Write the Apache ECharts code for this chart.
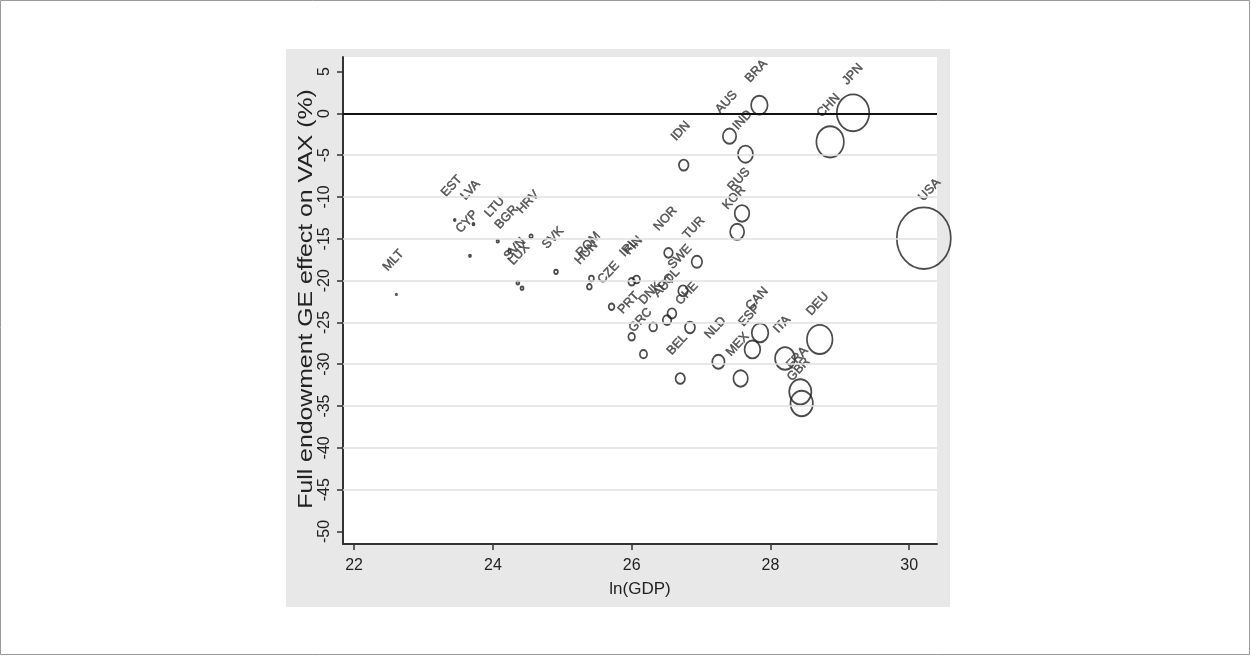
<!DOCTYPE html>
<html>
<head>
<meta charset="utf-8">
<script src="https://cdn.jsdelivr.net/npm/echarts@6/dist/echarts.min.js"></script>
<style>
  html, body { margin: 0; padding: 0; background: #ffffff; }
  #chart { width: 1251px; height: 656px; }
</style>
</head>
<body>
<div id="chart"></div>
<script>
// Country codes, log GDP and the full-endowment GE effect on VAX (%)
const countries = ['MLT','EST','LVA','CYP','LTU','BGR','HRV','SVN','LUX','SVK',
                   'ROM','HUN','CZE','IRL','FIN','NOR','TUR','SWE','DNK','AUT',
                   'POL','CHE','PRT','GRC','BEL','NLD','MEX','ESP','CAN','ITA',
                   'DEU','FRA','GBR','IDN','AUS','IND','BRA','RUS','KOR','CHN',
                   'JPN','USA'];
const lnGdp = [22.61, 23.45, 23.72, 23.67, 24.07, 24.24, 24.55, 24.36, 24.42, 24.91,
               25.42, 25.39, 25.71, 26.00, 26.07, 26.53, 26.94, 26.74, 26.31, 26.51,
               26.58, 26.84, 26.00, 26.17, 26.70, 27.25, 27.57, 27.74, 27.85, 28.21,
               28.71, 28.43, 28.45, 26.75, 27.41, 27.64, 27.84, 27.59, 27.52, 28.86,
               29.19, 30.21];
const geEffect = [-21.65, -12.76, -13.24, -17.03, -15.28, -16.47, -14.68, -20.26, -20.90, -18.95,
                  -19.74, -20.74, -23.13, -20.14, -19.86, -16.67, -17.75, -21.22, -25.53, -24.72,
                  -23.92, -25.60, -26.72, -28.79, -31.70, -29.71, -31.70, -28.23, -26.24, -29.31,
                  -27.03, -33.30, -34.69, -6.18, -2.72, -4.87, 0.99, -11.96, -14.16, -3.40,
                  0.07, -14.92];

// Axis ticks, titles and reference lines
const xTicks = [22, 24, 26, 28, 30];
const yTicks = [5, 0, -5, -10, -15, -20, -25, -30, -35, -40, -45, -50];
const gridLevels = [-5, -10, -15, -20, -25, -30, -35, -40, -45];
const zeroLevel = 0;
const xTitle = 'ln(GDP)';
const yTitle = 'Full endowment GE effect on VAX (%)';

// Bubble area is proportional to GDP, so the diameter grows with exp(lnGDP / 2)
const maxLn = Math.max.apply(null, lnGdp);
const maxDiameter = 54;
const bubbleSize = function (val) {
  const d = maxDiameter * Math.exp((val[0] - maxLn) / 2);
  return [d, d * 1.14];
};

const font = "'Liberation Sans', Arial, Helvetica, sans-serif";
const points = countries.map(function (c, i) {
  return { name: c, value: [lnGdp[i], geEffect[i]] };
});

const chart = echarts.init(document.getElementById('chart'), null, { renderer: 'canvas' });
chart.setOption({
  animation: false,
  backgroundColor: '#ffffff',
  graphic: [
    { type: 'rect', z: -20, silent: true,
      shape: { x: 0.5, y: 0.5, width: 1249, height: 654 },
      style: { fill: '#ffffff', stroke: '#9a9a9a', lineWidth: 1 } },
    { type: 'rect', z: -10, silent: true,
      shape: { x: 286, y: 49, width: 664, height: 558 },
      style: { fill: '#e8e8e8' } },
    // vertical axis title, set along the axis and stretched along its length
    { type: 'text', z: 5, silent: true,
      x: 306, y: 299, rotation: Math.PI / 2, scaleX: 1.24, scaleY: 1,
      style: { text: yTitle, font: "20px 'Liberation Sans', Arial, sans-serif",
               fill: '#222', align: 'center', verticalAlign: 'middle' } }
  ],
  grid: {
    left: 343, right: 314, top: 57, bottom: 112,
    show: true, backgroundColor: '#ffffff', borderWidth: 0
  },
  xAxis: {
    type: 'value', min: 21.84, max: 30.40,
    name: xTitle, nameLocation: 'middle', nameGap: 37,
    nameTextStyle: { fontFamily: font, fontSize: 17, color: '#222' },
    axisLine: { show: true, onZero: false, lineStyle: { color: '#333', width: 2 } },
    axisTick: { show: true, length: 6, customValues: xTicks, lineStyle: { color: '#333', width: 1.5 } },
    axisLabel: { customValues: xTicks, margin: 14, fontFamily: font, fontSize: 16, color: '#222' },
    splitLine: { show: false }
  },
  yAxis: {
    type: 'value', min: -51.5, max: 6.75,
    axisLine: { show: true, onZero: false, lineStyle: { color: '#333', width: 2 } },
    axisTick: { show: true, length: 6, customValues: yTicks, lineStyle: { color: '#333', width: 1.5 } },
    axisLabel: { customValues: yTicks, rotate: 90, margin: 10, fontFamily: font, fontSize: 16, color: '#222' },
    splitLine: { show: false }
  },
  series: [
    {
      // horizontal grid lines and the zero reference line
      type: 'line', data: [], z: 1, silent: true,
      markLine: {
        silent: true, symbol: 'none', animation: false,
        label: { show: false },
        data: gridLevels.map(function (v) {
          return { yAxis: v, lineStyle: { color: '#e0e0e0', width: 1.5, type: 'solid' } };
        }).concat([{ yAxis: zeroLevel, lineStyle: { color: '#111', width: 2, type: 'solid' } }])
      }
    },
    {
      type: 'scatter', z: 3,
      data: points,
      symbol: 'circle',
      symbolSize: bubbleSize,
      itemStyle: { color: 'rgba(0,0,0,0)', borderColor: '#1e1e1e', borderWidth: 1.8 },
      label: {
        show: true, formatter: '{b}', position: 'inside',
        fontFamily: font, fontSize: 12.5, color: '#3a3a3a',
        textBorderColor: '#3a3a3a', textBorderWidth: 0.5
      },
      labelLayout: function (p) {
        // labels sit above the marker; larger bubbles push them a little further out
        const r = p.rect.width / 2;
        const extra = Math.max(0, r - 12);
        return {
          x: p.rect.x + r - 3 + extra * 0.55,
          y: p.rect.y + p.rect.height / 2 - 34 - extra * 0.9,
          rotate: 47, align: 'center', verticalAlign: 'middle'
        };
      }
    }
  ]
});
</script>
</body>
</html>
